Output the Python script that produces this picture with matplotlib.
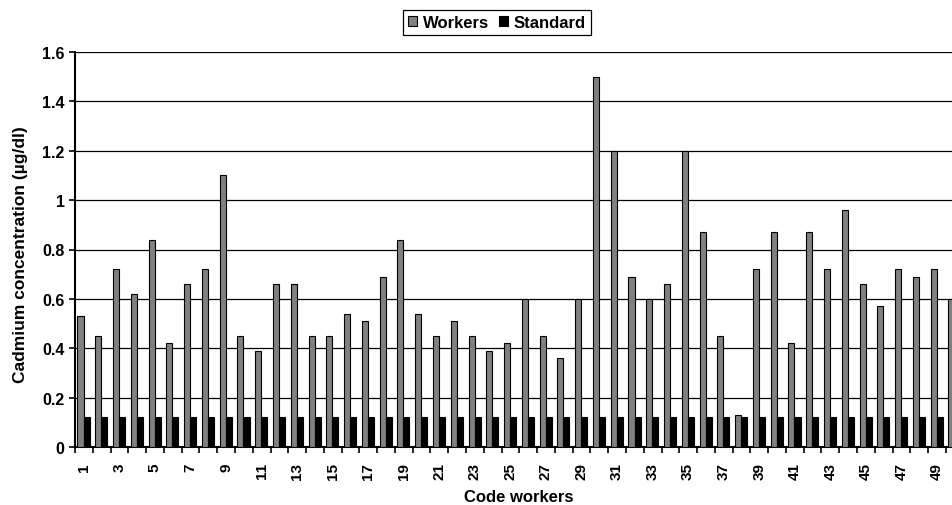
import matplotlib
matplotlib.use("Agg")
import matplotlib.pyplot as plt
import numpy as np

# worker codes 1..50 (last one is cut by the right edge in the original)
codes = list(range(1, 51))
workers = [0.53, 0.45, 0.72, 0.62, 0.84, 0.42, 0.66, 0.72, 1.10, 0.45,
           0.39, 0.66, 0.66, 0.45, 0.45, 0.54, 0.51, 0.69, 0.84, 0.54,
           0.45, 0.51, 0.45, 0.39, 0.42, 0.60, 0.45, 0.36, 0.60, 1.50,
           1.20, 0.69, 0.60, 0.66, 1.20, 0.87, 0.45, 0.13, 0.72, 0.87,
           0.42, 0.87, 0.72, 0.96, 0.66, 0.57, 0.72, 0.69, 0.72, 0.60]
standard = [0.12] * 50
y_ticks = [0, 0.2, 0.4, 0.6, 0.8, 1.0, 1.2, 1.4, 1.6]

plt.rcParams['font.family'] = ['Liberation Sans', 'DejaVu Sans']
plt.rcParams['font.weight'] = 'bold'

fig = plt.figure(figsize=(9.53, 5.06), dpi=100)
ax = fig.add_axes([75 / 953, 1 - 448 / 506, 1 - 75 / 953, (448 - 53) / 506])

x = np.array(codes)
w = 0.34
ax.bar(x - 0.19, workers, width=w, color='#808080', edgecolor='black',
       linewidth=0.8, label='Workers', zorder=3)
ax.bar(x + 0.15, standard, width=w, color='black', edgecolor='black',
       linewidth=0.8, label='Standard', zorder=3)

ax.set_yticks(y_ticks)
ax.yaxis.set_major_formatter(matplotlib.ticker.FormatStrFormatter('%g'))
ax.yaxis.grid(True, color='black', linewidth=0.9, zorder=0)
ax.set_axisbelow(True)

# labels on odd codes, tick marks on category boundaries
ax.set_xticks([c for c in codes if c % 2 == 1])
ax.set_xticklabels([str(c) for c in codes if c % 2 == 1], rotation=90)
ax.set_xticks(np.arange(0.5, 51, 1), minor=True)
ax.tick_params(axis='x', which='major', length=0, pad=11, labelsize=11)
ax.tick_params(axis='x', which='minor', length=4.5, width=1.2, direction='out')
ax.tick_params(axis='y', length=4.5, width=1.2, labelsize=11.5, pad=3)

# limits last, set_xticks would widen them
ax.set_xlim(0.5, 49.9)
ax.set_ylim(0, 1.6)

for s in ['top', 'right']:
    ax.spines[s].set_visible(False)
ax.spines['left'].set_linewidth(1.5)
ax.spines['bottom'].set_linewidth(1.5)

ax.set_ylabel('Cadmium concentration (µg/dl)', fontsize=12.5, fontweight='bold')
ax.yaxis.set_label_coords(-0.054, 0.49)
ax.set_xlabel('Code workers', fontsize=12, fontweight='bold')
ax.xaxis.set_label_coords(0.505, -0.107)

leg = fig.legend(loc='upper center', bbox_to_anchor=(497 / 953, 1 - 11 / 506),
                 ncol=2, fancybox=False, edgecolor='black', framealpha=1,
                 fontsize=12, handlelength=0.55, handleheight=0.55,
                 handletextpad=0.35, columnspacing=0.6, borderpad=0.3,
                 borderaxespad=0)
leg.get_frame().set_linewidth(0.9)
for t in leg.get_texts():
    t.set_fontweight('bold')

fig.savefig('out.png', dpi=100)
